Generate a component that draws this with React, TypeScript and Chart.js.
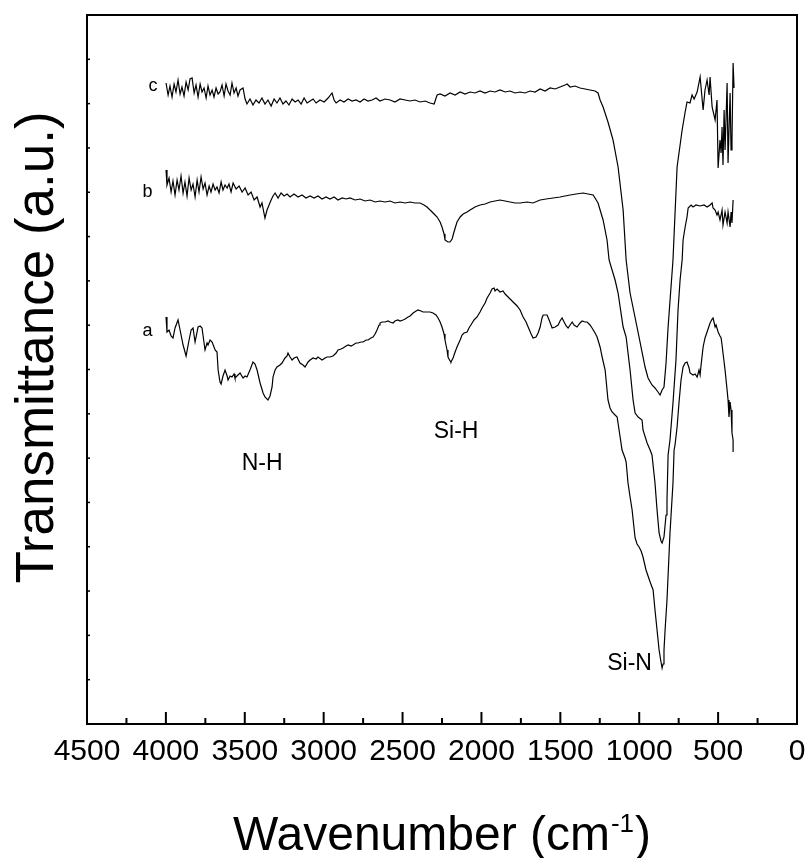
import React, { useEffect, useRef } from "react";
import { Chart, registerables } from "chart.js";

Chart.register(...registerables);

// ---- axis ranges / ticks ----
const X_MIN = 0;
const X_MAX = 4500;
const X_MAJOR_STEP = 500;
const X_MINOR_STEP = 250;
const X_TICK_LABELS = ["4500", "4000", "3500", "3000", "2500", "2000", "1500", "1000", "500", "0"];
const Y_MIN = 0;
const Y_MAX = 709;
const Y_TICK_INTERVALS = 16;

// ---- curve c (top) ----
const C_WN = [
  3999, 3986, 3974, 3961, 3948, 3936, 3923, 3910, 3898, 3885,
  3872, 3859, 3847, 3834, 3821, 3809, 3796, 3783, 3771, 3758,
  3745, 3733, 3720, 3707, 3695, 3682, 3669, 3657, 3644, 3631,
  3619, 3606, 3593, 3581, 3568, 3555, 3543, 3530, 3511, 3498,
  3486, 3467, 3448, 3429, 3410, 3391, 3372, 3353, 3333, 3314,
  3296, 3277, 3258, 3239, 3220, 3200, 3181, 3162, 3143, 3124,
  3105, 3086, 3067, 3048, 3023, 2997, 2972, 2947, 2934, 2921,
  2896, 2871, 2845, 2820, 2795, 2769, 2744, 2719, 2693, 2668,
  2643, 2611, 2579, 2548, 2516, 2484, 2452, 2421, 2389, 2357,
  2326, 2300,
  2281, 2262, 2231, 2199, 2167, 2135, 2104, 2072, 2041, 2009,
  1977, 1945, 1914, 1882, 1850, 1819, 1787, 1755, 1724, 1692,
  1660, 1628, 1597, 1565, 1533, 1502, 1470, 1457, 1438, 1407,
  1375, 1343, 1312, 1280, 1261,
  1248, 1229, 1198, 1166, 1134, 1102, 1083, 1058, 1014, 963,
  944, 919, 900, 881, 868, 855, 843, 830, 817, 786,
  760, 728, 709, 697, 678, 665, 652, 633, 614, 595,
  583, 570, 557, 551, 538, 519, 507, 500, 488, 481,
  475, 469, 462, 456, 450, 443, 437, 424, 418, 412,
  405, 399,
];
const C_T = [
  641, 629, 638, 627, 640, 632, 644, 630, 637, 628,
  642, 634, 645, 646, 631, 639, 627, 640, 632, 636,
  626, 638, 629, 634, 627, 636, 630, 632, 639, 628,
  640, 633, 629, 641, 631, 636, 628, 634, 636, 625,
  620, 625, 619, 624, 621, 626, 620, 624, 618, 625,
  621, 626, 620, 623, 619, 625, 622, 624, 620, 626,
  621, 623, 625, 621, 624, 622, 626, 631, 624, 621,
  624, 622, 625, 623, 624, 622, 625, 623, 624, 626,
  623, 625, 624, 622, 625, 624, 623, 624, 622, 623,
  621, 620,
  629, 630, 628, 631, 629, 632, 630, 632, 631, 633,
  631, 633, 632, 634, 632, 633, 631, 632, 631, 633,
  632, 635, 633, 636, 635, 637, 639, 640, 637, 638,
  636, 635, 634, 633, 631,
  624, 617, 602, 584, 557, 514, 464, 431, 397, 357,
  346, 339, 336, 332, 329, 334, 337, 361, 397, 464,
  557, 594, 612, 622, 621, 629, 625, 632, 647, 614,
  634, 644, 629, 647, 617, 604, 624, 556, 584, 571,
  597, 559, 614, 574, 604, 641, 561, 631, 574, 584,
  661, 636,
];

// ---- curve b (middle) ----
const B_WN = [
  3999, 3993, 3980, 3967, 3955, 3942, 3929, 3917, 3904, 3891,
  3879, 3866, 3853, 3840, 3828, 3815, 3802, 3790, 3777, 3764,
  3752, 3739, 3726, 3714, 3701, 3688, 3676, 3663, 3650, 3638,
  3625, 3612, 3600, 3587, 3574, 3555, 3536, 3517, 3498, 3479,
  3460, 3441, 3422, 3403, 3391, 3372, 3359, 3346, 3333, 3321,
  3308, 3289, 3270, 3251, 3232, 3213, 3188, 3162, 3137, 3112,
  3086, 3061, 3036, 3010, 2985, 2960, 2934, 2909, 2883, 2858,
  2833, 2801, 2769, 2738, 2706, 2674, 2643, 2611, 2579, 2548,
  2516, 2484, 2452, 2421, 2389, 2364, 2345, 2319, 2300, 2281,
  2262, 2250, 2237, 2231, 2212, 2199, 2186, 2174, 2155, 2135,
  2116, 2091, 2072, 2041, 2009, 1977, 1945, 1914, 1882, 1850,
  1819, 1787, 1755, 1711, 1673, 1628, 1590, 1546, 1502, 1470,
  1438, 1400, 1356, 1324, 1292, 1261, 1229, 1204, 1191, 1172,
  1153, 1134, 1102, 1083, 1058, 1039, 1026, 1007, 982, 976,
  950, 931, 919, 900, 887, 874, 862, 855, 843, 830,
  824, 817, 805, 786, 767, 754, 741, 728, 722, 709,
  697, 690, 671, 659, 640, 614, 589, 570, 551, 538,
  532, 519, 507, 500, 488, 475, 469, 456, 443, 437,
  424, 418, 412, 405,
];
const B_T = [
  554, 539, 546, 532, 543, 529, 544, 534, 548, 531,
  542, 528, 546, 534, 540, 527, 544, 532, 547, 535,
  541, 529, 538, 532, 540, 534, 537, 531, 542, 534,
  539, 536, 540, 532, 541, 535, 538, 532, 536, 529,
  532, 524, 527, 517, 521, 506, 514, 519, 524, 528,
  531, 526, 531, 528, 530, 527, 530, 527, 529, 526,
  528, 526, 528, 525, 527, 525, 527, 524, 526, 525,
  526, 524, 525, 523, 524, 522, 523, 522, 523, 521,
  522, 521, 522, 521, 521, 519, 517, 513, 510, 507,
  502, 497, 490, 484, 482, 482, 485, 492, 502, 507,
  510, 512, 514, 517, 519, 520, 522, 523, 524, 523,
  522, 521, 521, 522, 521, 524, 525, 526, 527, 528,
  529, 530, 531, 530, 529, 521, 504, 484, 464, 454,
  444, 431, 397, 387, 354, 324, 311, 307, 304, 294,
  281, 274, 269, 241, 214, 191, 183, 181, 187, 209,
  224, 269, 284, 321, 364, 414, 444, 464, 484, 497,
  507, 516, 519, 517, 519, 518, 519, 517, 519, 521,
  516, 514, 509, 512, 504, 514, 499, 512, 501, 512,
  497, 512, 501, 524,
];

// ---- curve a (bottom) ----
const A_WN = [
  3999, 3993, 3980, 3967, 3955, 3942, 3923, 3910, 3891, 3872,
  3853, 3840, 3828, 3815, 3796, 3783, 3771, 3752, 3739, 3733,
  3720, 3707, 3688, 3676, 3669, 3657, 3650, 3638, 3625, 3612,
  3606, 3593, 3581, 3568, 3562, 3543, 3530, 3511, 3498, 3486,
  3467, 3448, 3435, 3422, 3403, 3384, 3372, 3353, 3340, 3327,
  3321, 3308, 3296, 3277, 3264, 3245, 3232, 3226, 3213, 3200,
  3188, 3169, 3150, 3131, 3118, 3099, 3086, 3067, 3048, 3036,
  3010, 2991, 2979, 2960, 2941, 2921, 2909, 2890, 2877, 2858,
  2845, 2826, 2814, 2795, 2782, 2763, 2750, 2731, 2719, 2700,
  2687, 2674, 2662, 2649, 2643, 2630, 2611, 2592, 2579, 2560,
  2548, 2529, 2516, 2497, 2484, 2465, 2452, 2433, 2414, 2402,
  2383, 2370, 2345, 2326, 2307, 2288, 2275, 2262, 2250, 2237,
  2231, 2218, 2212, 2199, 2193, 2180, 2167, 2155, 2135, 2123,
  2110, 2091, 2079, 2059, 2047, 2028, 2009, 1996, 1977, 1964,
  1945, 1933, 1920, 1914, 1901, 1882, 1863, 1850, 1831, 1812,
  1793, 1774, 1755, 1736, 1717, 1704, 1685, 1673, 1654, 1641,
  1628, 1616, 1609, 1584, 1571, 1552, 1533, 1514, 1502, 1489,
  1476, 1463, 1451, 1438, 1425, 1413, 1394, 1375, 1362, 1343,
  1330, 1312, 1299, 1280, 1267, 1248, 1235, 1216, 1198, 1185,
  1172, 1153, 1140, 1121, 1109, 1090, 1083, 1071, 1058, 1045,
  1033, 1026, 1014, 1001, 988, 976, 957, 944, 931, 912,
  900, 887, 874, 862, 855, 849, 843, 836, 824, 805,
  786, 779, 773, 760, 748, 735, 722, 709, 697, 684,
  678, 659, 646, 633, 621, 614, 608, 595, 583, 570,
  551, 538, 532, 526, 519, 513, 500, 488, 481, 475,
  469, 456, 443, 437, 431, 424, 418, 412, 405, 405,
];
const A_T = [
  407, 392, 394, 388, 386, 396, 404, 394, 379, 368,
  384, 394, 396, 382, 397, 398, 396, 374, 381, 379,
  384, 382, 374, 372, 354, 342, 340, 348, 354, 348,
  344, 348, 347, 350, 346, 349, 351, 346, 348, 347,
  354, 362, 360, 354, 341, 331, 327, 324, 328, 337,
  347, 354, 357, 359, 361, 366, 368, 371, 367, 364,
  366, 367, 361, 359, 357, 362, 364, 366, 365, 367,
  364, 366, 367, 367, 368, 371, 374, 375, 376, 378,
  379, 378, 379, 381, 381, 382, 382, 384, 384, 386,
  387, 390, 394, 399, 401, 402, 402, 403, 402, 401,
  403, 404, 403, 404, 405, 407, 408, 411, 413, 414,
  413, 412, 412, 412, 411, 409, 406, 402, 397, 390,
  384, 374, 367, 363, 362, 366, 372, 377, 384, 389,
  391, 392, 396, 401, 404, 407, 412, 416, 421, 426,
  431, 435, 436, 433, 435, 432, 433, 430, 427, 424,
  421, 418, 414, 407, 402, 397, 390, 386, 387, 391,
  397, 406, 409, 409, 404, 396, 397, 399, 403, 406,
  402, 398, 396, 399, 402, 399, 397, 401, 403, 402,
  402, 399, 396, 391, 387, 377, 367, 354, 324, 316,
  312, 309, 307, 287, 274, 266, 262, 241, 227, 214,
  196, 186, 180, 177, 173, 167, 154, 148, 142, 134,
  114, 94, 74, 62, 56, 60, 74, 94, 124, 191,
  241, 274, 279, 297, 321, 344, 357, 361, 362, 356,
  351, 349, 350, 347, 354, 349, 359, 377, 386, 392,
  401, 405, 406, 402, 397, 399, 392, 388, 386, 379,
  371, 354, 334, 324, 307, 322, 314, 291, 284, 272,
];

// ---- text annotations (data coordinates: wavenumber, transmittance baseline) ----
const CURVE_LABELS = ["c", "b", "a"];
const CURVE_LABEL_WN = [4081, 4116, 4116];
const CURVE_LABEL_T = [633, 527, 388];
const BAND_LABELS = ["N-H", "Si-H", "Si-N"];
const BAND_LABEL_WN = [3390, 2161, 1061];
const BAND_LABEL_T = [254, 286, 54];

const FONT = "'Liberation Sans', Arial, Helvetica, sans-serif";

const toPoints = (xs: number[], ys: number[]) => xs.map((x, i) => ({ x, y: ys[i] }));

const decorPlugin = {
  id: "decor",
  afterDraw(chart: any) {
    const { ctx, chartArea: ca, scales } = chart;
    const xs = scales.x;
    const ys = scales.y;
    ctx.save();
    ctx.strokeStyle = "#000";
    ctx.fillStyle = "#000";
    ctx.lineWidth = 2;
    ctx.strokeRect(ca.left, ca.top, ca.right - ca.left, ca.bottom - ca.top);

    // x tick marks (inside)
    for (let v = X_MIN; v <= X_MAX; v += X_MINOR_STEP) {
      const px = xs.getPixelForValue(v);
      const len = v % X_MAJOR_STEP === 0 ? 12 : 6;
      ctx.beginPath();
      ctx.moveTo(px, ca.bottom);
      ctx.lineTo(px, ca.bottom - len);
      ctx.stroke();
    }
    // y tick marks (inside)
    ctx.lineWidth = 1.5;
    for (let i = 0; i <= Y_TICK_INTERVALS; i++) {
      const py = ys.getPixelForValue(Y_MIN + (i * (Y_MAX - Y_MIN)) / Y_TICK_INTERVALS);
      ctx.beginPath();
      ctx.moveTo(ca.left, py);
      ctx.lineTo(ca.left + 3, py);
      ctx.stroke();
    }

    // curve labels
    ctx.textAlign = "center";
    ctx.textBaseline = "alphabetic";
    ctx.font = `18px ${FONT}`;
    CURVE_LABELS.forEach((t, i) => {
      ctx.fillText(t, xs.getPixelForValue(CURVE_LABEL_WN[i]), ys.getPixelForValue(CURVE_LABEL_T[i]));
    });
    ctx.font = `23px ${FONT}`;
    BAND_LABELS.forEach((t, i) => {
      ctx.fillText(t, xs.getPixelForValue(BAND_LABEL_WN[i]), ys.getPixelForValue(BAND_LABEL_T[i]));
    });

    // x axis title with superscript
    const cx = (ca.left + ca.right) / 2;
    const baseY = chart.height - 8;
    const main = "Wavenumber (cm";
    const sup = "-1";
    const close = ")";
    ctx.font = `48px ${FONT}`;
    const w1 = ctx.measureText(main).width;
    const w3 = ctx.measureText(close).width;
    ctx.font = `26px ${FONT}`;
    const w2 = ctx.measureText(sup).width;
    const x0 = cx - (w1 + w2 + w3 + 2) / 2;
    ctx.textAlign = "left";
    ctx.font = `48px ${FONT}`;
    ctx.fillText(main, x0, baseY);
    ctx.font = `26px ${FONT}`;
    ctx.fillText(sup, x0 + w1 + 1, baseY - 18);
    ctx.font = `48px ${FONT}`;
    ctx.fillText(close, x0 + w1 + w2 + 2, baseY);

    // y axis title
    ctx.save();
    ctx.translate(ca.left - 34, (ca.top + ca.bottom) / 2 - 22);
    ctx.rotate(-Math.PI / 2);
    ctx.textAlign = "center";
    ctx.font = `53px ${FONT}`;
    ctx.fillText("Transmittance (a.u.)", 0, 0);
    ctx.restore();

    ctx.restore();
  },
};

export default function App() {
  const canvasRef = useRef<HTMLCanvasElement | null>(null);

  useEffect(() => {
    document.body.style.margin = "0";
    const canvas = canvasRef.current;
    if (!canvas) return;
    const lineStyle = {
      borderColor: "#000",
      borderWidth: 1.2,
      pointRadius: 0,
      pointHoverRadius: 0,
      showLine: true,
      tension: 0,
      fill: false,
    };
    const chart = new Chart(canvas, {
      type: "scatter",
      data: {
        datasets: [
          { label: "c", data: toPoints(C_WN, C_T), ...lineStyle },
          { label: "b", data: toPoints(B_WN, B_T), ...lineStyle },
          { label: "a", data: toPoints(A_WN, A_T), ...lineStyle },
        ],
      },
      options: {
        animation: false,
        responsive: false,
        devicePixelRatio: 1,
        events: [],
        layout: { padding: { top: 15, right: 10, left: 87, bottom: 0 } },
        plugins: {
          legend: { display: false },
          tooltip: { enabled: false },
          title: { display: false },
        },
        scales: {
          x: {
            type: "linear",
            min: X_MIN,
            max: X_MAX,
            reverse: true,
            grid: { display: false, drawTicks: false },
            border: { display: false },
            ticks: {
              stepSize: X_MAJOR_STEP,
              autoSkip: false,
              maxRotation: 0,
              padding: 10,
              color: "#000",
              font: { family: FONT, size: 30 },
              callback: (v: any) => {
                const idx = Math.round((X_MAX - Number(v)) / X_MAJOR_STEP);
                return X_TICK_LABELS[idx] ?? String(v);
              },
            },
            afterFit: (scale: any) => {
              scale.height = 134;
              scale.paddingLeft = 0;
              scale.paddingRight = 0;
            },
          },
          y: {
            type: "linear",
            display: false,
            min: Y_MIN,
            max: Y_MAX,
          },
        },
      },
      plugins: [decorPlugin],
    });
    return () => chart.destroy();
  }, []);

  return (
    <div style={{ width: 807, height: 858 }}>
      <canvas ref={canvasRef} width={807} height={858} style={{ display: "block" }} />
    </div>
  );
}
